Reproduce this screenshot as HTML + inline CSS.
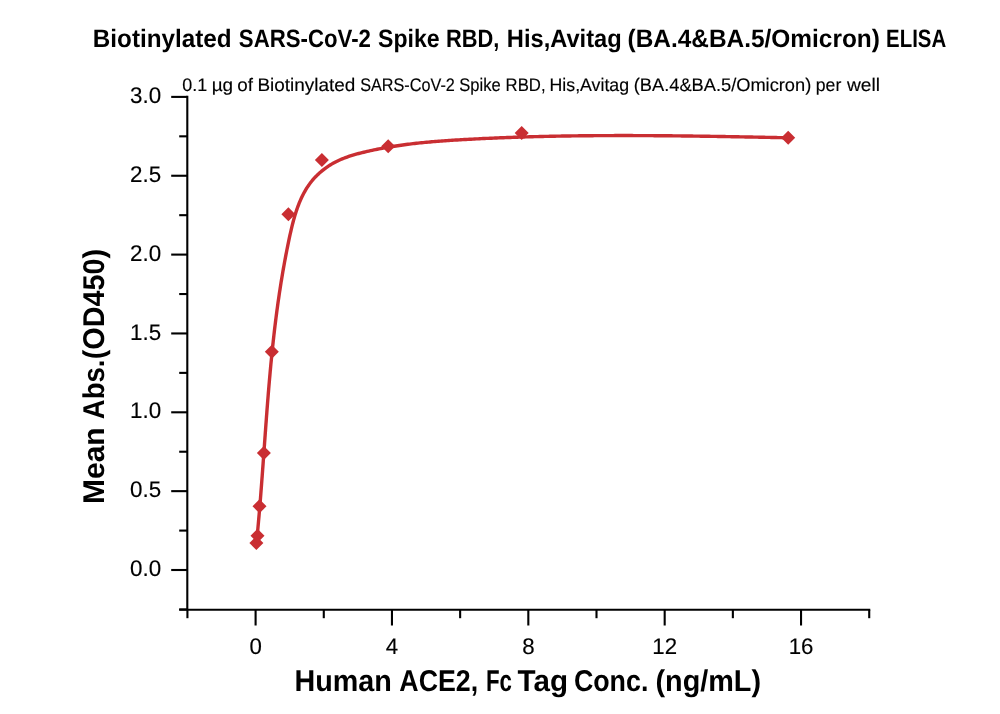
<!DOCTYPE html>
<html><head><meta charset="utf-8"><style>
html,body{margin:0;padding:0;background:#fff;}
svg{display:block;will-change:transform;}
text{font-family:"Liberation Sans",sans-serif;text-rendering:geometricPrecision;}
</style></head><body>
<svg width="1000" height="714" viewBox="0 0 1000 714">
<rect width="1000" height="714" fill="#fff"/>
<g font-size="25.2" font-weight="bold">
<text x="92.82" y="46.7" textLength="138.83" lengthAdjust="spacingAndGlyphs">Biotinylated</text>
<text x="238.84" y="46.7" textLength="132.11" lengthAdjust="spacingAndGlyphs">SARS-CoV-2</text>
<text x="378.06" y="46.7" textLength="61.59" lengthAdjust="spacingAndGlyphs">Spike</text>
<text x="445.98" y="46.7" textLength="53.4" lengthAdjust="spacingAndGlyphs">RBD,</text>
<text x="506.86" y="46.7" textLength="114.83" lengthAdjust="spacingAndGlyphs">His,Avitag</text>
<text x="627.54" y="46.7" textLength="252.35" lengthAdjust="spacingAndGlyphs">(BA.4&amp;BA.5/Omicron)</text>
<text x="886.08" y="46.7" textLength="60.09" lengthAdjust="spacingAndGlyphs">ELISA</text>
</g>
<g font-size="18.2" stroke="#000" stroke-width="0.15">
<text x="182.26" y="90.6" textLength="24.93" lengthAdjust="spacingAndGlyphs">0.1</text>
<text x="211.7" y="90.6" textLength="21.46" lengthAdjust="spacingAndGlyphs">µg</text>
<text x="237.22" y="90.6" textLength="15.7" lengthAdjust="spacingAndGlyphs">of</text>
<text x="257.44" y="90.6" textLength="97.96" lengthAdjust="spacingAndGlyphs">Biotinylated</text>
<text x="360.13" y="90.6" textLength="94.72" lengthAdjust="spacingAndGlyphs">SARS-CoV-2</text>
<text x="459.32" y="90.6" textLength="41.39" lengthAdjust="spacingAndGlyphs">Spike</text>
<text x="505.62" y="90.6" textLength="39.97" lengthAdjust="spacingAndGlyphs">RBD,</text>
<text x="549.54" y="90.6" textLength="79.53" lengthAdjust="spacingAndGlyphs">His,Avitag</text>
<text x="633.75" y="90.6" textLength="177.5" lengthAdjust="spacingAndGlyphs">(BA.4&amp;BA.5/Omicron)</text>
<text x="815.79" y="90.6" textLength="25.51" lengthAdjust="spacingAndGlyphs">per</text>
<text x="847.0" y="90.6" textLength="32.96" lengthAdjust="spacingAndGlyphs">well</text>
</g>

<g fill="#000" font-size="22.6" stroke="#000" stroke-width="0.15">
<text x="161.2" y="576.10" text-anchor="end" textLength="31.10" lengthAdjust="spacingAndGlyphs">0.0</text>
<text x="161.2" y="497.25" text-anchor="end" textLength="31.10" lengthAdjust="spacingAndGlyphs">0.5</text>
<text x="161.2" y="418.40" text-anchor="end" textLength="31.10" lengthAdjust="spacingAndGlyphs">1.0</text>
<text x="161.2" y="339.55" text-anchor="end" textLength="31.10" lengthAdjust="spacingAndGlyphs">1.5</text>
<text x="161.2" y="260.70" text-anchor="end" textLength="31.10" lengthAdjust="spacingAndGlyphs">2.0</text>
<text x="161.2" y="181.85" text-anchor="end" textLength="31.10" lengthAdjust="spacingAndGlyphs">2.5</text>
<text x="161.2" y="103.00" text-anchor="end" textLength="31.10" lengthAdjust="spacingAndGlyphs">3.0</text>
<text x="255.60" y="653.5" text-anchor="middle" textLength="12.38" lengthAdjust="spacingAndGlyphs">0</text>
<text x="391.96" y="653.5" text-anchor="middle" textLength="12.38" lengthAdjust="spacingAndGlyphs">4</text>
<text x="528.32" y="653.5" text-anchor="middle" textLength="12.38" lengthAdjust="spacingAndGlyphs">8</text>
<text x="664.68" y="653.5" text-anchor="middle" textLength="24.76" lengthAdjust="spacingAndGlyphs">12</text>
<text x="801.04" y="653.5" text-anchor="middle" textLength="24.76" lengthAdjust="spacingAndGlyphs">16</text>
</g>
<g font-size="30.0" font-weight="bold">
<text x="294.38" y="690.7" textLength="97.46" lengthAdjust="spacingAndGlyphs">Human</text>
<text x="399.33" y="690.7" textLength="78.8" lengthAdjust="spacingAndGlyphs">ACE2,</text>
<text x="486.02" y="690.7" textLength="25.99" lengthAdjust="spacingAndGlyphs">Fc</text>
<text x="517.55" y="690.7" textLength="50.43" lengthAdjust="spacingAndGlyphs">Tag</text>
<text x="573.88" y="690.7" textLength="74.48" lengthAdjust="spacingAndGlyphs">Conc.</text>
<text x="655.46" y="690.7" textLength="105.55" lengthAdjust="spacingAndGlyphs">(ng/mL)</text>
</g>
<g transform="translate(103.7,0) rotate(-90)" font-size="30.0" font-weight="bold">
<text x="-504.0" y="0" textLength="76.63" lengthAdjust="spacingAndGlyphs">Mean</text>
<text x="-419.19" y="0" textLength="59.53" lengthAdjust="spacingAndGlyphs">Abs.</text>
<text x="-359.24" y="0" textLength="110.41" lengthAdjust="spacingAndGlyphs">(OD450)</text>
</g>

<g stroke="#000" stroke-width="2.1" stroke-linecap="butt" fill="none">
<line x1="187.3" y1="95.85000000000001" x2="187.3" y2="609.7" />
<line x1="179.2" y1="609.7" x2="870.25" y2="609.7" />
<line x1="179.2" y1="609.42" x2="187.3" y2="609.42" />
<line x1="171.2" y1="570.00" x2="187.3" y2="570.00" />
<line x1="179.2" y1="530.58" x2="187.3" y2="530.58" />
<line x1="171.2" y1="491.15" x2="187.3" y2="491.15" />
<line x1="179.2" y1="451.73" x2="187.3" y2="451.73" />
<line x1="171.2" y1="412.30" x2="187.3" y2="412.30" />
<line x1="179.2" y1="372.88" x2="187.3" y2="372.88" />
<line x1="171.2" y1="333.45" x2="187.3" y2="333.45" />
<line x1="179.2" y1="294.03" x2="187.3" y2="294.03" />
<line x1="171.2" y1="254.60" x2="187.3" y2="254.60" />
<line x1="179.2" y1="215.18" x2="187.3" y2="215.18" />
<line x1="171.2" y1="175.75" x2="187.3" y2="175.75" />
<line x1="179.2" y1="136.33" x2="187.3" y2="136.33" />
<line x1="171.2" y1="96.90" x2="187.3" y2="96.90" />
<line x1="187.42" y1="609.7" x2="187.42" y2="618.2" />
<line x1="255.60" y1="609.7" x2="255.60" y2="625.5" />
<line x1="323.78" y1="609.7" x2="323.78" y2="618.2" />
<line x1="391.96" y1="609.7" x2="391.96" y2="625.5" />
<line x1="460.14" y1="609.7" x2="460.14" y2="618.2" />
<line x1="528.32" y1="609.7" x2="528.32" y2="625.5" />
<line x1="596.50" y1="609.7" x2="596.50" y2="618.2" />
<line x1="664.68" y1="609.7" x2="664.68" y2="625.5" />
<line x1="732.86" y1="609.7" x2="732.86" y2="618.2" />
<line x1="801.04" y1="609.7" x2="801.04" y2="625.5" />
<line x1="869.22" y1="609.7" x2="869.22" y2="618.2" />
</g>
<path d="M256.39,543.98 L256.57,542.25 L256.74,540.51 L256.91,538.77 L257.08,537.04 L257.25,535.30 L257.41,533.57 L257.57,531.83 L257.74,530.10 L257.90,528.37 L258.05,526.64 L258.21,524.91 L258.37,523.18 L258.52,521.45 L258.67,519.72 L258.83,518.00 L258.98,516.27 L259.12,514.55 L259.27,512.82 L259.42,511.10 L259.56,509.37 L259.71,507.65 L259.85,505.93 L259.99,504.21 L260.13,502.49 L260.27,500.77 L260.41,499.05 L260.55,497.33 L260.68,495.62 L260.82,493.90 L260.95,492.18 L261.08,490.47 L261.22,488.75 L261.35,487.04 L261.48,485.33 L261.61,483.61 L261.74,481.90 L261.87,480.19 L262.00,478.48 L262.13,476.77 L262.25,475.06 L262.38,473.35 L262.51,471.64 L262.63,469.93 L262.76,468.22 L262.88,466.52 L263.01,464.81 L263.13,463.10 L263.25,461.40 L263.38,459.69 L263.50,457.99 L263.62,456.28 L263.75,454.58 L263.87,452.87 L263.99,451.17 L264.11,449.47 L264.24,447.76 L264.36,446.06 L264.48,444.36 L264.60,442.66 L264.73,440.96 L264.85,439.26 L264.97,437.56 L265.10,435.86 L265.22,434.16 L265.34,432.46 L265.47,430.76 L265.59,429.06 L265.71,427.36 L265.84,425.66 L265.96,423.97 L266.09,422.27 L266.22,420.57 L266.34,418.87 L266.47,417.18 L266.60,415.48 L266.73,413.79 L266.85,412.09 L266.98,410.39 L267.11,408.70 L267.25,407.00 L267.38,405.31 L267.51,403.61 L267.64,401.92 L267.78,400.22 L267.91,398.53 L268.05,396.83 L268.19,395.14 L268.32,393.44 L268.46,391.75 L268.60,390.05 L268.74,388.36 L268.89,386.66 L269.03,384.97 L269.17,383.28 L269.32,381.58 L269.47,379.89 L269.62,378.19 L269.77,376.50 L269.92,374.81 L270.07,373.11 L270.22,371.42 L270.38,369.72 L270.53,368.03 L270.69,366.33 L270.85,364.64 L271.01,362.95 L271.18,361.25 L271.34,359.56 L271.51,357.86 L271.68,356.17 L271.85,354.47 L272.02,352.78 L272.19,351.08 L272.37,349.39 L272.54,347.69 L272.72,346.00 L272.90,344.30 L273.09,342.61 L273.27,340.91 L273.46,339.21 L273.65,337.52 L273.84,335.82 L274.03,334.12 L274.23,332.43 L274.42,330.73 L274.62,329.03 L274.83,327.33 L275.03,325.63 L275.24,323.94 L275.45,322.24 L275.66,320.54 L275.87,318.84 L276.09,317.14 L276.31,315.44 L276.53,313.74 L276.75,312.04 L276.98,310.34 L277.21,308.63 L277.44,306.93 L277.67,305.23 L277.91,303.53 L278.15,301.82 L278.39,300.12 L278.64,298.42 L278.89,296.71 L279.14,295.01 L279.39,293.30 L279.65,291.60 L279.91,289.89 L280.17,288.18 L280.44,286.48 L280.71,284.77 L280.98,283.06 L281.25,281.35 L281.53,279.64 L281.81,277.93 L282.10,276.22 L282.39,274.51 L282.68,272.80 L282.97,271.09 L283.27,269.38 L283.57,267.66 L283.88,265.95 L284.19,264.23 L284.50,262.52 L284.82,260.80 L285.13,259.09 L285.46,257.37 L285.78,255.65 L286.11,253.93 L286.45,252.21 L286.78,250.50 L287.13,248.77 L287.47,247.05 L287.82,245.33 L288.17,243.61 L288.53,241.89 L288.89,240.16 L289.25,238.44 L289.62,236.71 L290.00,234.99 L290.38,233.26 L290.77,231.54 L291.16,229.82 L291.57,228.11 L291.98,226.40 L292.40,224.69 L292.84,222.99 L293.28,221.29 L293.74,219.60 L294.21,217.92 L294.69,216.24 L295.19,214.58 L295.71,212.92 L296.24,211.27 L296.79,209.64 L297.35,208.01 L297.94,206.40 L298.54,204.80 L299.17,203.21 L299.81,201.64 L300.48,200.08 L301.17,198.54 L301.88,197.02 L302.62,195.51 L303.38,194.01 L304.16,192.54 L304.98,191.09 L305.82,189.65 L306.69,188.23 L307.58,186.84 L308.51,185.47 L309.47,184.12 L310.45,182.79 L311.47,181.48 L312.53,180.20 L313.61,178.95 L314.72,177.72 L315.86,176.51 L317.03,175.33 L318.23,174.18 L319.45,173.05 L320.71,171.95 L321.99,170.87 L323.29,169.83 L324.62,168.81 L325.97,167.82 L327.35,166.86 L328.75,165.92 L330.17,165.02 L331.62,164.14 L333.08,163.30 L334.57,162.49 L336.07,161.70 L337.60,160.95 L339.14,160.23 L340.70,159.54 L342.27,158.88 L343.86,158.24 L345.47,157.63 L347.09,157.04 L348.71,156.48 L350.35,155.94 L352.00,155.42 L353.66,154.91 L355.33,154.43 L357.00,153.96 L358.68,153.51 L360.36,153.07 L362.05,152.64 L363.74,152.23 L365.43,151.82 L367.12,151.43 L368.81,151.04 L370.50,150.66 L372.20,150.29 L373.89,149.93 L375.58,149.58 L377.28,149.23 L378.97,148.90 L380.67,148.57 L382.36,148.25 L384.06,147.94 L385.76,147.63 L387.46,147.33 L389.15,147.04 L390.85,146.76 L392.55,146.49 L394.25,146.22 L395.95,145.95 L397.65,145.70 L399.35,145.45 L401.06,145.21 L402.76,144.97 L404.46,144.74 L406.16,144.52 L407.87,144.30 L409.57,144.09 L411.27,143.88 L412.98,143.68 L414.68,143.48 L416.39,143.29 L418.10,143.11 L419.80,142.93 L421.51,142.75 L423.21,142.58 L424.92,142.41 L426.63,142.25 L428.34,142.09 L430.04,141.94 L431.75,141.79 L433.46,141.65 L435.17,141.51 L436.88,141.37 L438.59,141.23 L440.29,141.10 L442.00,140.97 L443.71,140.85 L445.42,140.73 L447.13,140.61 L448.84,140.49 L450.55,140.38 L452.26,140.27 L453.97,140.16 L455.69,140.06 L457.40,139.95 L459.11,139.85 L460.82,139.75 L462.53,139.65 L464.24,139.55 L465.95,139.46 L467.66,139.36 L469.37,139.27 L471.08,139.18 L472.80,139.09 L474.51,139.00 L476.22,138.91 L477.93,138.83 L479.64,138.74 L481.35,138.66 L483.07,138.57 L484.78,138.49 L486.49,138.41 L488.20,138.33 L489.91,138.26 L491.62,138.18 L493.34,138.11 L495.05,138.03 L496.76,137.96 L498.47,137.89 L500.18,137.82 L501.90,137.75 L503.61,137.68 L505.32,137.62 L507.03,137.55 L508.75,137.49 L510.46,137.43 L512.17,137.37 L513.88,137.31 L515.60,137.25 L517.31,137.19 L519.02,137.13 L520.73,137.08 L522.45,137.02 L524.16,136.97 L525.87,136.92 L527.59,136.87 L529.30,136.82 L531.01,136.77 L532.72,136.72 L534.44,136.67 L536.15,136.63 L537.86,136.58 L539.58,136.54 L541.29,136.50 L543.00,136.46 L544.72,136.41 L546.43,136.38 L548.14,136.34 L549.86,136.30 L551.57,136.26 L553.28,136.23 L555.00,136.19 L556.71,136.16 L558.42,136.13 L560.14,136.10 L561.85,136.07 L563.56,136.04 L565.28,136.01 L566.99,135.98 L568.71,135.96 L570.42,135.93 L572.13,135.91 L573.85,135.88 L575.56,135.86 L577.28,135.84 L578.99,135.82 L580.70,135.80 L582.42,135.78 L584.13,135.76 L585.85,135.74 L587.56,135.72 L589.27,135.71 L590.99,135.69 L592.70,135.68 L594.42,135.67 L596.13,135.65 L597.85,135.64 L599.56,135.63 L601.27,135.62 L602.99,135.61 L604.70,135.61 L606.42,135.60 L608.13,135.59 L609.85,135.58 L611.56,135.58 L613.27,135.58 L614.99,135.57 L616.70,135.57 L618.42,135.57 L620.13,135.56 L621.85,135.56 L623.56,135.56 L625.28,135.56 L626.99,135.57 L628.71,135.57 L630.42,135.57 L632.14,135.57 L633.85,135.58 L635.57,135.58 L637.28,135.59 L638.99,135.59 L640.71,135.60 L642.42,135.61 L644.14,135.62 L645.85,135.62 L647.57,135.63 L649.28,135.64 L651.00,135.65 L652.71,135.66 L654.43,135.68 L656.14,135.69 L657.86,135.70 L659.57,135.71 L661.29,135.73 L663.00,135.74 L664.72,135.76 L666.43,135.77 L668.15,135.79 L669.86,135.81 L671.58,135.82 L673.29,135.84 L675.01,135.86 L676.72,135.88 L678.44,135.90 L680.15,135.91 L681.87,135.93 L683.58,135.95 L685.30,135.98 L687.01,136.00 L688.73,136.02 L690.45,136.04 L692.16,136.06 L693.88,136.09 L695.59,136.11 L697.31,136.13 L699.02,136.16 L700.74,136.18 L702.45,136.21 L704.17,136.23 L705.88,136.26 L707.60,136.29 L709.31,136.31 L711.03,136.34 L712.74,136.37 L714.46,136.39 L716.17,136.42 L717.89,136.45 L719.60,136.48 L721.32,136.51 L723.03,136.54 L724.75,136.56 L726.46,136.59 L728.18,136.62 L729.89,136.65 L731.61,136.69 L733.33,136.72 L735.04,136.75 L736.76,136.78 L738.47,136.81 L740.19,136.84 L741.90,136.87 L743.62,136.91 L745.33,136.94 L747.05,136.97 L748.76,137.00 L750.48,137.04 L752.19,137.07 L753.91,137.10 L755.62,137.14 L757.34,137.17 L759.05,137.20 L760.77,137.24 L762.48,137.27 L764.20,137.30 L765.91,137.34 L767.63,137.37 L769.34,137.41 L771.06,137.44 L772.77,137.48 L774.49,137.51 L776.20,137.55 L777.92,137.58 L779.63,137.62 L781.35,137.65 L783.06,137.69 L784.78,137.72 L786.49,137.76 L788.21,137.79" fill="none" stroke="#c92e32" stroke-width="3.4" stroke-linejoin="round" stroke-linecap="round"/>
<g fill="#c92e32">
<path d="M256.40,536.10 L263.40,543.10 L256.40,550.10 L249.40,543.10 Z" />
<path d="M257.50,528.80 L264.50,535.80 L257.50,542.80 L250.50,535.80 Z" />
<path d="M259.50,499.30 L266.50,506.30 L259.50,513.30 L252.50,506.30 Z" />
<path d="M263.90,446.10 L270.90,453.10 L263.90,460.10 L256.90,453.10 Z" />
<path d="M271.80,344.70 L278.80,351.70 L271.80,358.70 L264.80,351.70 Z" />
<path d="M288.40,207.30 L295.40,214.30 L288.40,221.30 L281.40,214.30 Z" />
<path d="M321.90,152.90 L328.90,159.90 L321.90,166.90 L314.90,159.90 Z" />
<path d="M388.20,139.30 L395.20,146.30 L388.20,153.30 L381.20,146.30 Z" />
<path d="M521.70,125.90 L528.70,132.90 L521.70,139.90 L514.70,132.90 Z" />
<path d="M788.20,130.70 L795.20,137.70 L788.20,144.70 L781.20,137.70 Z" />
</g>
</svg>
</body></html>
